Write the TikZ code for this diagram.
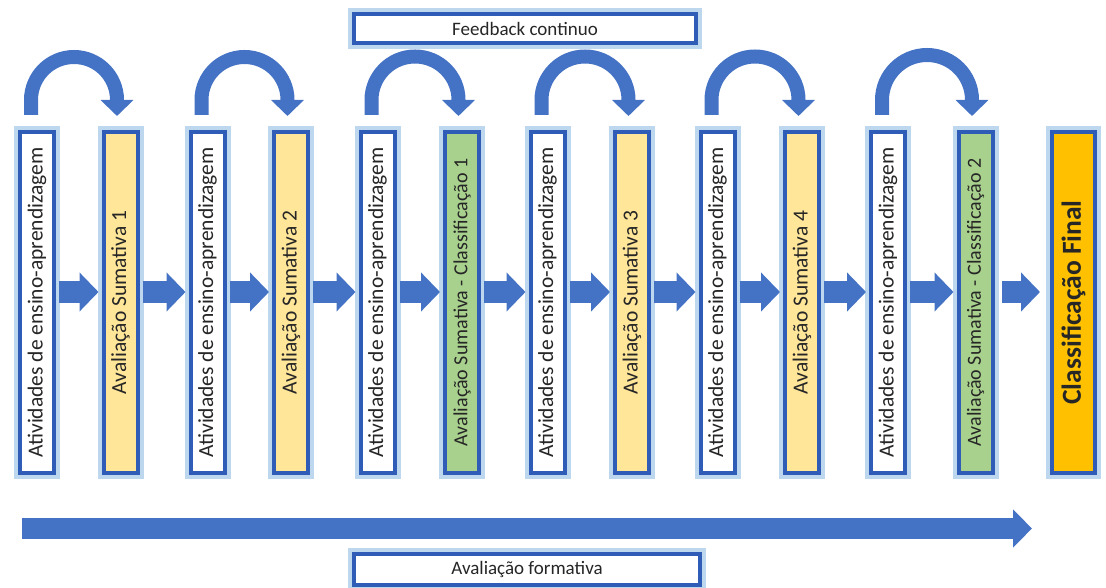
\documentclass[tikz,border=0pt]{standalone}
\usepackage{fontspec}
\newfontfamily\calfont{Carlito}
\usetikzlibrary{arrows.meta, calc}
\definecolor{bdr}{HTML}{2F5CB6}
\definecolor{glw}{HTML}{BDD7EE}
\definecolor{arw}{HTML}{4472C4}
\definecolor{sumY}{HTML}{FFE699}
\definecolor{sumG}{HTML}{A9D18E}
\definecolor{finO}{HTML}{FFC000}

\begin{document}
\begin{tikzpicture}[x=1pt, y=1pt,
    col/.style={draw=bdr, line width=4pt, fill=white, minimum width=34pt, minimum height=341pt, inner sep=0pt,
      preaction={draw=glw, line width=12pt}, font=\calfont\fontsize{21.5}{23}\selectfont, text=black!85},
    banner/.style={col, minimum width=342pt, minimum height=29pt, font=\calfont\fontsize{19}{21}\selectfont},
    blk/.style={draw=arw, line width=22pt, -{Triangle[length=19pt,width=38pt]}, shorten <=3pt, shorten >=3pt},
    curv/.style={draw=arw, line width=14pt, -{Triangle[length=16pt,width=32pt]}},
  ]
  \useasboundingbox (0,0) rectangle (1106,587);

  % columns: activities + summative assessment
  \foreach \i/\xw/\xs/\fc/\fs/\lab in {
      1/37/120.5/sumY/21.5/Avaliação Sumativa 1,
      2/207.5/291/sumY/21.5/Avaliação Sumativa 2,
      3/377.5/462/sumG/20/Avaliação Sumativa - Classificação 1,
      4/547.5/632/sumY/21.5/Avaliação Sumativa 3,
      5/717.5/802/sumY/21.5/Avaliação Sumativa 4,
      6/888/975.5/sumG/20/Avaliação Sumativa - Classificação 2}
  {
    \node[col] (w\i) at (\xw,284.5) {\rotatebox{90}{Atividades de ensino-aprendizagem}};
    \node[col, fill=\fc, font=\calfont\fontsize{\fs}{22}\selectfont] (s\i) at (\xs,284.5) {\rotatebox{90}{\lab}};
    \draw[blk] ([yshift=10.5pt]w\i.east) -- ([yshift=10.5pt]s\i.west);
    \draw[curv] let \p1=(w\i.north), \p2=(s\i.north) in
      (\x1-6pt,\y1+15pt) -- ++(0,15pt) arc[start angle=180, end angle=0, radius={(\x2-\x1+2.5pt)/2}] -- ++(0,-16pt);
  }

  \foreach \i [evaluate=\i as \j using int(\i+1)] in {1,...,5}
    \draw[blk] ([yshift=10.5pt]s\i.east) -- ([yshift=10.5pt]w\j.west);

  \node[col, fill=finO, minimum width=43pt, font=\calfont\bfseries\fontsize{27.5}{29}\selectfont] (fin) at (1073.5,284.5)
    {\rotatebox{90}{Classificação Final}};
  \draw[blk, shorten <=7.5pt, shorten >=10pt] ([yshift=10.5pt]s6.east) -- ([yshift=10.5pt]fin.west);

  % banners
  \node[banner] (fb) at (525,558.5) {Feedback continuo};
  \node[banner, minimum width=346pt, minimum height=31pt] (af) at (527,17.5) {Avaliação formativa};

  \coordinate (fa0) at (22,58.5);
  \coordinate (fa1) at (1032,58.5);
  \draw[blk, line width=21pt, -{Triangle[length=19pt,width=37pt]}, shorten <=0pt, shorten >=0pt] (fa0) -- (fa1);
\end{tikzpicture}
\end{document}
